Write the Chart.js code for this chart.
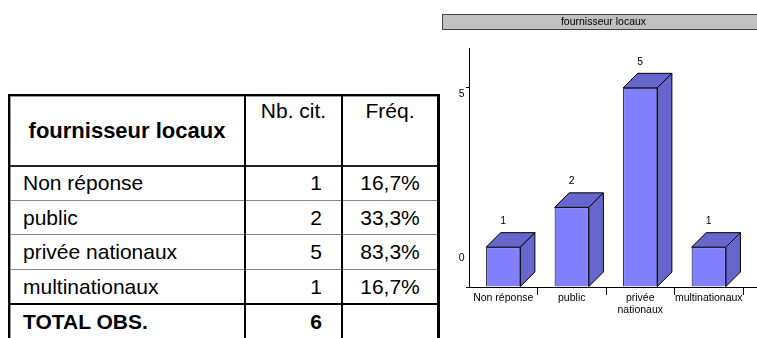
<!DOCTYPE html>
<html>
<head>
<meta charset="utf-8">
<script src="https://cdn.jsdelivr.net/npm/chart.js@4.4.1/dist/chart.umd.min.js"></script>
<style>
  html, body { margin:0; padding:0; background:#fff; width:757px; height:338px; overflow:hidden; }
  body { position:relative; font-family:'Liberation Sans', Arial, sans-serif; color:#000; }
  .ln { position:absolute; }
  .cell { position:absolute; display:flex; align-items:center; font-size:21px; white-space:nowrap; }
  #chartWrap { position:absolute; left:440px; top:0; width:327px; height:338px; }
</style>
</head>
<body>
<div id="tbl"></div>
<div id="chartWrap"><canvas id="c" width="327" height="338"></canvas></div>
<script>
// ---- data ----
const TITLE = 'fournisseur locaux';
const CATEGORIES = ['Non réponse', 'public', 'privée nationaux', 'multinationaux'];
const X_TICK_LABELS = [['Non réponse'], ['public'], ['privée', 'nationaux'], ['multinationaux']];
const COUNTS = [1, 2, 5, 1];
const FREQS = ['16,7%', '33,3%', '83,3%', '16,7%'];
const TOTAL_LABEL = 'TOTAL OBS.';
const TOTAL_OBS = 6;
const HEADERS = ['Nb. cit.', 'Fréq.'];
const Y_TICKS = [0, 5];

// ---- table ----
const tbl = document.getElementById('tbl');
function line(l, t, w, h, c) {
  const d = document.createElement('div');
  d.className = 'ln';
  d.style.cssText = `left:${l}px;top:${t}px;width:${w}px;height:${h}px;background:${c};`;
  tbl.appendChild(d);
}
function cell(text, l, t, w, h, opts) {
  const d = document.createElement('div');
  d.className = 'cell';
  d.textContent = text;
  let css = `left:${l}px;top:${t}px;width:${w}px;height:${h}px;`;
  if (opts.justify) css += `justify-content:${opts.justify};`;
  if (opts.bold) css += 'font-weight:bold;';
  if (opts.size) css += `font-size:${opts.size}px;`;
  if (opts.pr) css += `padding-right:${opts.pr}px;box-sizing:border-box;`;
  if (opts.pl) css += `padding-left:${opts.pl}px;box-sizing:border-box;`;
  if (opts.top) css += 'align-items:flex-start;line-height:24px;';
  d.style.cssText = css;
  tbl.appendChild(d);
}
// header
cell(TITLE, 10, 96, 234, 69, { justify:'center', bold:true, size:22 });
cell(HEADERS[0], 246, 99, 95, 40, { justify:'center', top:true });
cell(HEADERS[1], 343, 99, 94, 40, { justify:'center', top:true });
const rowTops = [166, 200.5, 235, 269.5, 305];
const rowH = 34.5;
CATEGORIES.forEach((c, i) => {
  cell(c, 10, rowTops[i], 234, rowH, { pl:13 });
  cell(String(COUNTS[i]), 246, rowTops[i], 95, rowH, { justify:'flex-end', pr:19 });
  cell(FREQS[i], 343, rowTops[i], 94, rowH, { justify:'center' });
});
cell(TOTAL_LABEL, 10, rowTops[4], 234, rowH, { pl:13, bold:true });
cell(String(TOTAL_OBS), 246, rowTops[4], 95, rowH, { justify:'flex-end', pr:19, bold:true });
// lines
line(8, 94, 432, 2, '#000');
line(10, 96, 427, 1, '#999');
line(8, 94, 2, 250, '#000');
line(10, 96, 1, 248, '#999');
line(437, 94, 3, 250, '#000');
line(10, 165, 427, 2, '#222');
line(10, 200, 427, 1, '#888');
line(10, 234, 427, 1, '#888');
line(10, 269, 427, 1, '#888');
line(10, 303, 427, 2, '#000');
line(244, 94, 2, 250, '#000');
line(341, 94, 2, 250, '#000');

// ---- chart ----
const FONT = "'Liberation Sans', Arial, sans-serif";
const DEPTH = 14.5;
const FRONT = '#8080ff';
const SIDE = '#6666cc';

const threeD = {
  id: 'threeD',
  beforeDraw(chart) {
    const ctx = chart.ctx;
    ctx.save();
    ctx.fillStyle = '#c0c0c0';
    ctx.fillRect(2, 14, 340, 16);
    ctx.strokeStyle = '#444';
    ctx.lineWidth = 1;
    ctx.strokeRect(2.5, 14.5, 340, 15);
    ctx.restore();
  },
  afterDatasetsDraw(chart) {
    const ctx = chart.ctx;
    const meta = chart.getDatasetMeta(0);
    const ys = chart.scales.y;
    const area = chart.chartArea;
    ctx.save();
    // floor extension of the baseline
    ctx.strokeStyle = '#000';
    ctx.lineWidth = 1;
    ctx.beginPath();
    ctx.moveTo(area.right, Math.round(area.bottom) + 0.5);
    ctx.lineTo(chart.width, Math.round(area.bottom) + 0.5);
    ctx.stroke();
    meta.data.forEach((bar, i) => {
      const p = bar.getProps(['x', 'y', 'base', 'width'], true);
      const l = p.x - p.width / 2, r = p.x + p.width / 2, t = p.y, b = p.base;
      ctx.fillStyle = SIDE;
      ctx.strokeStyle = '#000';
      ctx.lineWidth = 1;
      // top face
      ctx.beginPath();
      ctx.moveTo(l, t); ctx.lineTo(l + DEPTH, t - DEPTH); ctx.lineTo(r + DEPTH, t - DEPTH); ctx.lineTo(r, t);
      ctx.closePath(); ctx.fill(); ctx.stroke();
      // side face
      ctx.beginPath();
      ctx.moveTo(r, t); ctx.lineTo(r + DEPTH, t - DEPTH); ctx.lineTo(r + DEPTH, b - DEPTH); ctx.lineTo(r, b);
      ctx.closePath(); ctx.fill(); ctx.stroke();
      // value label
      ctx.fillStyle = '#000';
      ctx.font = `10.5px ${FONT}`;
      ctx.textAlign = 'center';
      ctx.textBaseline = 'middle';
      ctx.fillText(String(COUNTS[i]), p.x, t - 26);
    });
    // y tick labels
    ctx.fillStyle = '#000';
    ctx.font = `10.5px ${FONT}`;
    ctx.textAlign = 'center';
    ctx.textBaseline = 'middle';
    const yOff = [-29, 6];
    Y_TICKS.forEach((v, i) => {
      ctx.fillText(String(v), ys.left + 21.7, ys.getPixelForValue(v) + yOff[i]);
    });
    ctx.restore();
  }
};

new Chart(document.getElementById('c'), {
  type: 'bar',
  data: {
    labels: X_TICK_LABELS,
    datasets: [{
      data: COUNTS,
      backgroundColor: FRONT,
      borderColor: '#000',
      borderWidth: 1,
      barPercentage: 0.5,
      categoryPercentage: 1.0
    }]
  },
  options: {
    responsive: false,
    animation: false,
    events: [],
    layout: { padding: 0 },
    plugins: {
      legend: { display: false },
      tooltip: { enabled: false },
      title: {
        display: true,
        text: TITLE,
        color: '#000',
        font: { family: FONT, size: 10.5, weight: 'normal', lineHeight: 1.5 },
        padding: { top: 14, bottom: 18.25 }
      }
    },
    scales: {
      x: {
        grid: {
          display: true, drawOnChartArea: false, offset: true, tickLength: 8,
          color: (ctx) => (ctx.index === 0 ? 'rgba(0,0,0,0)' : '#000')
        },
        border: { display: true, color: '#000' },
        ticks: { color: '#000', font: { family: FONT, size: 10.5, lineHeight: 1.2 }, padding: -3.3, maxRotation: 0, autoSkip: false },
        afterFit: (s) => { s.height = 51; }
      },
      y: {
        min: 0, max: 6,
        afterBuildTicks: (s) => { s.ticks = Y_TICKS.map(v => ({ value: v })); },
        grid: { display: true, drawOnChartArea: false, tickLength: 3, color: '#000' },
        border: { display: true, color: '#000' },
        ticks: { display: false },
        afterFit: (s) => { s.width = 29; }
      },
      y2: {
        position: 'right',
        display: true,
        grid: { display: false },
        border: { display: false },
        ticks: { display: false },
        afterFit: (s) => { s.width = 24; }
      }
    }
  },
  plugins: [threeD]
});
</script>
</body>
</html>
